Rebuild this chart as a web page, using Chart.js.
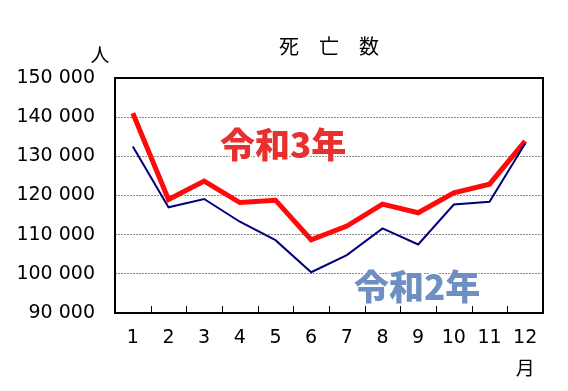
<!DOCTYPE html>
<html>
<head>
<meta charset="utf-8">
<script src="https://cdn.jsdelivr.net/npm/chart.js@4"></script>
<style>
  html, body { margin: 0; padding: 0; background: #fff; }
  #wrap { position: relative; width: 568px; height: 391px; }
</style>
</head>
<body>
<div id="wrap"><canvas id="c" width="568" height="391"></canvas></div>
<script>
// Monthly deaths, by month (1–12)
const months = ['1', '2', '3', '4', '5', '6', '7', '8', '9', '10', '11', '12'];
const reiwa3 = [141000, 119000, 123700, 118200, 118800, 108700, 112200, 117800, 115600, 120700, 122900, 133900];
const reiwa2 = [132500, 117000, 119100, 113300, 108600, 100400, 104800, 111600, 107500, 117700, 118400, 133300];
const yTicks = [90000, 100000, 110000, 120000, 130000, 140000, 150000];

const JP = '"Noto Sans CJK JP", "Noto Sans", sans-serif';
const NUM = '"DejaVu Sans", "Noto Sans", sans-serif';

function fmt(v) {
  return String(v).replace(/\B(?=(\d{3})+(?!\d))/g, ' ');
}

// Frame, inner month ticks and the free-floating labels
const decor = {
  id: 'decor',
  afterDatasetsDraw(chart) {
    const { ctx, chartArea: a, scales: { x } } = chart;
    ctx.save();
    // inner tick marks between months
    ctx.strokeStyle = '#000';
    ctx.lineWidth = 1;
    for (let i = 1; i < months.length; i++) {
      const px = Math.round((x.getPixelForValue(i - 1) + x.getPixelForValue(i)) / 2) + 0.5;
      ctx.beginPath();
      ctx.moveTo(px, a.bottom);
      ctx.lineTo(px, a.bottom - 7);
      ctx.stroke();
    }
    // plot frame
    ctx.lineWidth = 2;
    ctx.strokeRect(a.left, a.top, a.right - a.left, a.bottom - a.top);

    // title and units
    ctx.fillStyle = '#000';
    ctx.textAlign = 'center';
    ctx.textBaseline = 'middle';
    ctx.font = '20px ' + JP;
    const cx = (a.left + a.right) / 2;
    ctx.fillText('死', cx - 40, 46);
    ctx.fillText('亡', cx, 46);
    ctx.fillText('数', cx + 40, 46);
    ctx.font = '19px ' + JP;
    ctx.fillText('人', 100, 55);
    ctx.fillText('月', x.getPixelForValue(11), 368);

    // series labels
    ctx.font = '900 35px ' + JP;
    ctx.textAlign = 'left';
    ctx.lineJoin = 'round';
    ctx.lineWidth = 3;
    ctx.strokeStyle = '#fff';
    ctx.strokeText('令和3年', 220, 145);
    ctx.fillStyle = '#e8302f';
    ctx.fillText('令和3年', 220, 145);
    ctx.strokeText('令和2年', 354, 287);
    ctx.fillStyle = '#6d8fc2';
    ctx.fillText('令和2年', 354, 287);
    ctx.restore();
  }
};

new Chart(document.getElementById('c'), {
  type: 'line',
  data: {
    labels: months,
    datasets: [
      {
        label: '令和2年',
        data: reiwa2,
        borderColor: '#00007a',
        borderWidth: 2,
        pointRadius: 0,
        tension: 0,
        fill: false
      },
      {
        label: '令和3年',
        data: reiwa3,
        borderColor: '#ff0a0a',
        borderWidth: 5,
        pointRadius: 0,
        tension: 0,
        fill: false
      }
    ]
  },
  options: {
    responsive: false,
    animation: false,
    layout: { padding: { top: 78, right: 25, bottom: 38, left: 0 } },
    plugins: {
      legend: { display: false },
      tooltip: { enabled: false },
      title: { display: false }
    },
    scales: {
      x: {
        offset: true,
        afterFit(s) { s.height = 40; },
        grid: { display: false, drawTicks: false },
        border: { display: false },
        ticks: {
          color: '#000',
          padding: 14,
          maxRotation: 0,
          font: { family: NUM, size: 19 }
        }
      },
      y: {
        min: 90000,
        max: 150000,
        afterFit(s) { s.width = 115; },
        afterBuildTicks(s) { s.ticks = yTicks.map(v => ({ value: v })); },
        grid: {
          drawTicks: false,
          color: ctx => (ctx.tick && (ctx.tick.value === 90000 || ctx.tick.value === 150000)) ? 'rgba(0,0,0,0)' : '#8a8a8a',
          lineWidth: 1
        },
        border: { display: false, dash: [2, 1] },
        ticks: {
          color: '#000',
          padding: 20,
          font: { family: NUM, size: 19 },
          callback: v => fmt(v)
        }
      }
    }
  },
  plugins: [decor]
});
</script>
</body>
</html>
